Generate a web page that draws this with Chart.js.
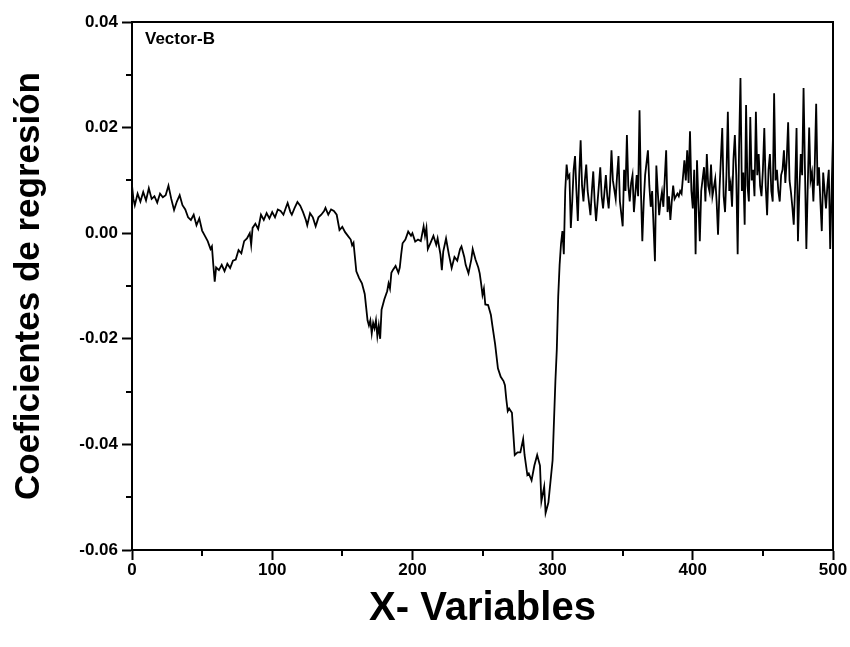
<!DOCTYPE html>
<html>
<head>
<meta charset="utf-8">
<script src="https://cdn.jsdelivr.net/npm/chart.js@4"></script>
<style>
html,body{margin:0;padding:0;background:#fff;}
#wrap{width:850px;height:647px;position:relative;}
</style>
</head>
<body>
<div id="wrap"><canvas id="c" width="850" height="647"></canvas></div>
<script>
const xValues = [
0,1,2,4,6,8,10,12,14,16,18,20,22,24,26,28,30,32,34,36,38,40,42,44,46,48,50,52,54,56,57,58,59,60,62,64,66,68,70,72,74,76,78,80,82,84,85,86,88,90,92,94,96,98,100,
102,104,106,108,110,111,113,114,116,118,120,122,124,125,127,129,131,133,135,137,138,140,142,144,146,148,150,152,154,156,157,158,160,162,164,166,167,168,169,170,171,172,173,174,175,176,177,178,180,182,183,184,185,186,188,190,191,192,193,195,197,199,
200,202,204,206,208,209,210,211,213,215,217,218,220,221,222,224,226,228,230,232,234,235,237,238,240,242,243,245,247,248,249,250,251,252,254,256,257,259,261,263,265,266,267,268,269,271,272,273,275,277,279,280,282,283,285,287,289,291,292,294,295,297,
300,302,303,304,305,306,307,308,309,310,311,312,313,314,315,316,317,318,319,320,321,322,323,324,325,327,328,329,330,331,333,334,335,336,338,339,340,341,342,343,345,346,347,348,350,351,352,353,354,355,356,357,358,359,360,361,362,363,364,365,366,368,369,370,371,373,374,375,376,377,378,379,381,382,383,384,385,386,387,389,390,391,392,394,395,396,397,398,399,
400,401,402,403,404,405,406,408,409,410,411,412,413,414,416,417,418,419,421,422,423,424,425,426,427,428,429,430,431,432,433,434,435,436,437,438,439,440,441,442,443,444,445,446,447,448,449,450,451,452,453,454,455,456,457,458,459,460,461,462,463,464,465,466,467,468,469,470,471,472,473,474,475,476,477,478,479,480,481,482,483,484,485,486,487,488,489,490,491,492,493,494,495,496,497,498,499,500
];
const yValues = [
0.0090,0.0065,0.0053,0.0075,0.0060,0.0078,0.0062,0.0085,0.0065,0.0070,0.0058,0.0075,0.0068,0.0072,0.0090,0.0065,0.0044,0.0060,0.0072,0.0053,0.0045,0.0030,0.0025,0.0035,0.0015,0.0028,0.0005,-0.0005,-0.0015,-0.0030,-0.0025,-0.0060,-0.0092,-0.0065,-0.0070,-0.0060,-0.0072,-0.0058,-0.0066,-0.0052,-0.0050,-0.0032,-0.0038,-0.0015,-0.0010,0.0000,-0.0022,0.0010,0.0018,0.0008,0.0035,0.0025,0.0038,0.0028,0.0040,
0.0030,0.0045,0.0042,0.0035,0.0050,0.0057,0.0040,0.0035,0.0048,0.0059,0.0052,0.0040,0.0025,0.0015,0.0038,0.0030,0.0013,0.0030,0.0035,0.0042,0.0048,0.0035,0.0045,0.0042,0.0035,0.0006,0.0012,0.0002,-0.0005,-0.0012,-0.0023,-0.0018,-0.0072,-0.0085,-0.0095,-0.0115,-0.0140,-0.0165,-0.0175,-0.0165,-0.0190,-0.0170,-0.0180,-0.0165,-0.0195,-0.0175,-0.0200,-0.0145,-0.0125,-0.0110,-0.0095,-0.0105,-0.0075,-0.0070,-0.0062,-0.0075,-0.0065,-0.0040,-0.0019,-0.0012,0.0003,-0.0005,
0.0000,-0.0016,-0.0012,-0.0015,0.0013,-0.0005,0.0010,-0.0030,-0.0018,-0.0005,-0.0022,-0.0010,-0.0040,-0.0070,-0.0035,-0.0010,-0.0040,-0.0066,-0.0045,-0.0052,-0.0030,-0.0025,-0.0045,-0.0060,-0.0076,-0.0050,-0.0030,-0.0050,-0.0065,-0.0076,-0.0095,-0.0117,-0.0105,-0.0135,-0.0136,-0.0155,-0.0174,-0.0210,-0.0256,-0.0272,-0.0280,-0.0288,-0.0315,-0.0337,-0.0332,-0.0340,-0.0380,-0.0420,-0.0415,-0.0415,-0.0390,-0.0420,-0.0458,-0.0455,-0.0468,-0.0440,-0.0420,-0.0440,-0.0508,-0.0480,-0.0530,-0.0510,
-0.0430,-0.0280,-0.0220,-0.0120,-0.0060,-0.0020,0.0004,-0.0040,0.0080,0.0130,0.0105,0.0110,0.0010,0.0060,0.0120,0.0146,0.0080,0.0023,0.0110,0.0176,0.0090,0.0060,0.0100,0.0130,0.0080,0.0034,0.0080,0.0117,0.0060,0.0023,0.0090,0.0125,0.0070,0.0047,0.0110,0.0070,0.0047,0.0090,0.0157,0.0100,0.0065,0.0110,0.0146,0.0060,0.0013,0.0120,0.0080,0.0186,0.0090,0.0060,0.0095,0.0110,0.0040,0.0075,0.0110,0.0070,0.0233,0.0080,-0.0015,0.0060,0.0110,0.0157,0.0090,0.0050,0.0080,-0.0053,0.0128,0.0080,0.0034,0.0060,0.0078,0.0050,0.0157,0.0040,0.0070,0.0025,0.0060,0.0090,0.0065,0.0075,0.0070,0.0080,0.0075,0.0138,0.0100,0.0157,0.0095,0.0193,0.0080,
0.0047,0.0120,-0.0040,0.0138,0.0060,-0.0015,0.0080,0.0125,0.0060,0.0150,0.0090,0.0078,0.0130,0.0070,0.0103,0.0060,-0.0003,0.0080,0.0199,0.0070,0.0040,0.0110,0.0230,0.0080,0.0095,0.0050,0.0140,0.0186,0.0110,-0.0040,0.0160,0.0294,0.0080,0.0115,0.0016,0.0243,0.0090,0.0060,0.0220,0.0100,0.0120,0.0070,0.0230,0.0110,0.0150,0.0090,0.0070,0.0120,0.0199,0.0090,0.0034,0.0120,0.0150,0.0080,0.0060,0.0265,0.0100,0.0120,0.0080,0.0060,0.0110,0.0120,0.0157,0.0095,0.0140,0.0210,0.0100,0.0078,0.0050,0.0016,0.0090,0.0199,-0.0015,0.0080,0.0150,0.0110,0.0275,0.0120,-0.0030,0.0090,0.0200,0.0100,0.0115,0.0060,0.0130,0.0245,0.0090,0.0125,0.0060,0.0004,0.0115,0.0080,0.0047,0.0090,0.0120,-0.0030,0.0080,0.0186,-0.0035,0.0070
];
const yTicks = [-0.06, -0.04, -0.02, 0.00, 0.02, 0.04];
const xTicks = [0, 100, 200, 300, 400, 500];
const seriesLabel = 'Vector-B';

const pts = xValues.map((x, i) => ({x: x, y: yValues[i]}));
const FONT = '"Liberation Sans", Arial, sans-serif';

const framePlugin = {
  id: 'frame',
  afterDraw(chart) {
    const ctx = chart.ctx, a = chart.chartArea;
    const xs = chart.scales.x, ys = chart.scales.y;
    ctx.save();
    ctx.strokeStyle = '#000';
    ctx.lineWidth = 2;
    ctx.strokeRect(a.left, a.top, a.right - a.left, a.bottom - a.top);
    for (let v = -0.05; v < 0.04; v += 0.02) {
      const py = Math.round(ys.getPixelForValue(v));
      ctx.beginPath(); ctx.moveTo(a.left, py); ctx.lineTo(a.left - 6, py); ctx.stroke();
    }
    for (let v = 50; v < 500; v += 100) {
      const px = Math.round(xs.getPixelForValue(v));
      ctx.beginPath(); ctx.moveTo(px, a.bottom); ctx.lineTo(px, a.bottom + 6); ctx.stroke();
    }
    ctx.fillStyle = '#000';
    ctx.font = 'bold 17px ' + FONT;
    ctx.textBaseline = 'top';
    ctx.fillText(seriesLabel, a.left + 13, a.top + 9);
    ctx.restore();
  }
};

new Chart(document.getElementById('c'), {
  type: 'line',
  data: {
    datasets: [{
      label: seriesLabel,
      data: pts,
      borderColor: '#000',
      borderWidth: 1.8,
      pointRadius: 0,
      tension: 0,
      fill: false
    }]
  },
  options: {
    responsive: false,
    animation: false,
    layout: { padding: { left: 8, right: 17, top: 22, bottom: 0 } },
    plugins: { legend: { display: false }, tooltip: { enabled: false } },
    scales: {
      x: {
        type: 'linear', min: 0, max: 500,
        afterBuildTicks(s) { s.ticks = xTicks.map(v => ({value: v})); },
        afterFit(s) { s.height = 97; },
        grid: { display: true, drawOnChartArea: false, tickLength: 10, tickWidth: 2, tickColor: '#000' },
        border: { display: true, color: '#000', width: 2 },
        ticks: { color: '#000', font: { family: FONT, weight: 'bold', size: 17 }, padding: 0, maxRotation: 0 },
        title: { display: true, text: 'X- Variables', color: '#000', font: { family: FONT, weight: 'bold', size: 40 }, padding: { top: 4, bottom: 14 } }
      },
      y: {
        min: -0.06, max: 0.04,
        afterBuildTicks(s) { s.ticks = yTicks.map(v => ({value: v})); },
        afterFit(s) { s.width = 124; },
        grid: { display: true, drawOnChartArea: false, tickLength: 10, tickWidth: 2, tickColor: '#000' },
        border: { display: true, color: '#000', width: 2 },
        ticks: { color: '#000', font: { family: FONT, weight: 'bold', size: 17 }, padding: 4, callback: v => v.toFixed(2) },
        title: { display: true, text: 'Coeficientes de regresión', color: '#000', font: { family: FONT, weight: 'bold', size: 35 }, padding: { top: 0, bottom: 2 } }
      }
    }
  },
  plugins: [framePlugin]
});
</script>
</body>
</html>
